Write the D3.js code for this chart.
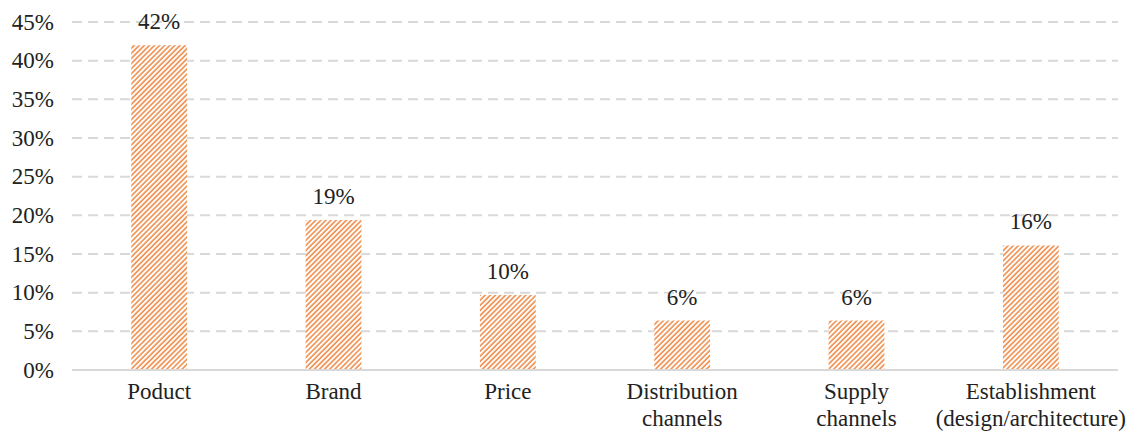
<!DOCTYPE html>
<html>
<head>
<meta charset="utf-8">
<script src="https://cdn.jsdelivr.net/npm/d3@7"></script>
<style>
  body { margin: 0; background: #fff; }
</style>
</head>
<body>
<svg id="chart" width="1136" height="432"></svg>
<script>
// data
var categories = ["Poduct", "Brand", "Price", "Distribution\nchannels", "Supply\nchannels", "Establishment\n(design/architecture)"];
var shares = [42, 19.4, 9.7, 6.4, 6.4, 16.1];
var yTicks = [0, 5, 10, 15, 20, 25, 30, 35, 40, 45];

var serif = "Liberation Serif";
var fontSize = "23px";

var svg = d3.select("#chart"),
    width = +svg.attr("width"),
    height = +svg.attr("height");

var margin = {top: 22, right: 18, bottom: 62, left: 72};

var x = d3.scaleBand()
    .domain(categories)
    .range([margin.left, width - margin.right])
    .paddingInner(0.68)
    .paddingOuter(0.34);

var y = d3.scaleLinear()
    .domain([0, 45])
    .range([height - margin.bottom, margin.top]);

// hatch fill
var pat = svg.append("defs").append("pattern")
    .attr("id", "hatch")
    .attr("patternUnits", "userSpaceOnUse")
    .attr("width", 3.6)
    .attr("height", 3.6)
    .attr("patternTransform", "rotate(45)");
pat.append("rect").attr("width", 3.6).attr("height", 3.6).attr("fill", "#fff");
pat.append("line")
    .attr("x1", 1).attr("y1", 0).attr("x2", 1).attr("y2", 3.6)
    .attr("stroke", "#ed7d31").attr("stroke-width", 1.4);

// grid lines
svg.append("g")
  .selectAll("line")
  .data(yTicks.filter(function(d) { return d > 0; }))
  .enter().append("line")
    .attr("x1", margin.left)
    .attr("x2", width - margin.right)
    .attr("y1", function(d) { return y(d); })
    .attr("y2", function(d) { return y(d); })
    .attr("stroke", "#d9d9d9")
    .attr("stroke-width", 2)
    .attr("stroke-dasharray", "10,6");

// y axis labels
svg.append("g")
  .selectAll("text")
  .data(yTicks)
  .enter().append("text")
    .attr("x", margin.left - 18)
    .attr("y", function(d) { return y(d); })
    .attr("dy", "0.33em")
    .attr("text-anchor", "end")
    .attr("font-family", serif)
    .attr("font-size", fontSize)
    .attr("fill", "#222")
    .text(function(d) { return d + "%"; });

// bars
svg.append("g")
  .selectAll("rect")
  .data(shares)
  .enter().append("rect")
    .attr("x", function(d, i) { return x(categories[i]); })
    .attr("width", x.bandwidth())
    .attr("y", function(d) { return y(d); })
    .attr("height", function(d) { return y(0) - y(d); })
    .attr("fill", "url(#hatch)");

// baseline
svg.append("line")
    .attr("x1", margin.left)
    .attr("x2", width - margin.right)
    .attr("y1", y(0))
    .attr("y2", y(0))
    .attr("stroke", "#d9d9d9")
    .attr("stroke-width", 2);

// value labels
var fmt = d3.format(".0f");
svg.append("g")
  .selectAll("text")
  .data(shares)
  .enter().append("text")
    .attr("x", function(d, i) { return x(categories[i]) + x.bandwidth() / 2; })
    .attr("y", function(d) { return y(d) - 16; })
    .attr("text-anchor", "middle")
    .attr("font-family", serif)
    .attr("font-size", fontSize)
    .attr("fill", "#222")
    .text(function(d) { return fmt(d) + "%"; });

// category labels
svg.append("g")
  .selectAll("text")
  .data(categories)
  .enter().append("text")
    .attr("text-anchor", "middle")
    .attr("font-family", serif)
    .attr("font-size", fontSize)
    .attr("fill", "#222")
    .attr("transform", function(d) { return "translate(" + (x(d) + x.bandwidth() / 2) + "," + (y(0) + 29) + ")"; })
  .selectAll("tspan")
  .data(function(d) { return d.split("\n"); })
  .enter().append("tspan")
    .attr("x", 0)
    .attr("dy", function(d, i) { return i ? 27 : 0; })
    .text(function(d) { return d; });
</script>
</body>
</html>
